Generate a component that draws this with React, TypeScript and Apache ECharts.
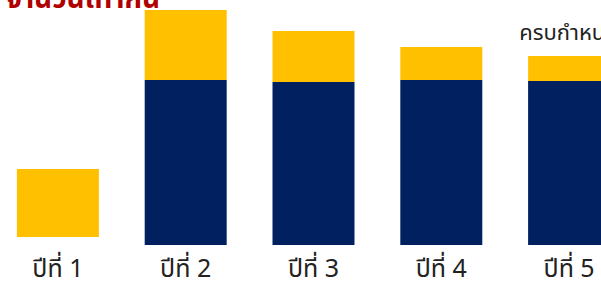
import React, { useEffect, useRef } from "react";
import * as echarts from "echarts";

const categories = ["ปีที่ 1", "ปีที่ 2", "ปีที่ 3", "ปีที่ 4", "ปีที่ 5"];
const gapValues = [8, 0, 0, 0, 0];
const principalValues = [0, 165, 163, 165, 164];
const interestValues = [68, 70, 51, 33, 25];
const titleText = "จำนวนเท่ากัน";
const maturityLabel = "ครบกำหนด";

const THAI_FONT = "'Noto Sans Thai', 'Tahoma', 'Leelawadee UI', sans-serif";

export default function App() {
  const ref = useRef<HTMLDivElement>(null);
  useEffect(() => {
    if (!ref.current) return;
    const chart = echarts.init(ref.current, undefined, { renderer: "svg" });
    chart.setOption({
      animation: false,
      backgroundColor: "#ffffff",
      grid: { left: 0, right: 0, top: 0, bottom: 41, containLabel: false },
      xAxis: {
        type: "category",
        data: categories,
        axisLine: { show: false },
        axisTick: { show: false },
        axisLabel: {
          color: "#222222",
          fontSize: 25,
          lineHeight: 28,
          fontFamily: THAI_FONT,
          margin: 10,
        },
      },
      yAxis: {
        type: "value",
        min: 0,
        max: 245,
        show: false,
        splitLine: { show: false },
      },
      graphic: [
        {
          type: "text",
          x: 166,
          y: 13,
          style: {
            text: titleText,
            fill: "#B00000",
            fontSize: 28,
            fontWeight: "bold",
            fontFamily: THAI_FONT,
            textAlign: "right",
            textVerticalAlign: "bottom",
          },
        },
      ],
      series: [
        {
          type: "bar",
          stack: "s",
          data: gapValues,
          barWidth: 82,
          itemStyle: { color: "rgba(0,0,0,0)" },
          silent: true,
        },
        {
          type: "bar",
          stack: "s",
          data: principalValues,
          barWidth: 82,
          itemStyle: { color: "#002060" },
        },
        {
          type: "bar",
          stack: "s",
          barWidth: 82,
          itemStyle: { color: "#FFC000" },
          data: interestValues.map((v, i) =>
            i === interestValues.length - 1
              ? {
                  value: v,
                  label: {
                    show: true,
                    position: "top",
                    distance: 12,
                    formatter: maturityLabel,
                    color: "#222222",
                    fontSize: 22,
                    fontFamily: THAI_FONT,
                  },
                }
              : v
          ),
        },
      ],
    });
    return () => chart.dispose();
  }, []);
  return (
    <div
      style={{
        position: "absolute",
        left: 0,
        top: 0,
        width: 601,
        height: 286,
        overflow: "hidden",
      }}
    >
      <div
        ref={ref}
        style={{ position: "absolute", left: -6, top: 0, width: 639, height: 286 }}
      />
    </div>
  );
}
